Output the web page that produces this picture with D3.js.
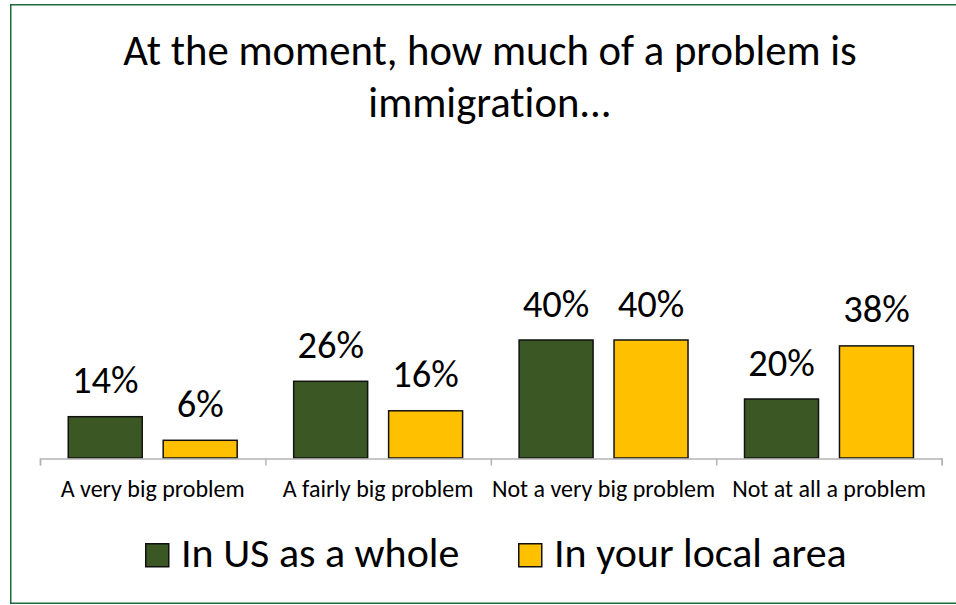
<!DOCTYPE html>
<html>
<head>
<meta charset="utf-8">
<script src="https://cdn.jsdelivr.net/npm/d3@7"></script>
<style>
  html, body { margin: 0; padding: 0; background: #fff; }
  svg { display: block; }
  text { font-family: Carlito, Calibri, "Open Sans", sans-serif; fill: #000; font-variant-ligatures: none; font-feature-settings: "liga" 0, "clig" 0; }
</style>
</head>
<body>
<svg id="chart" width="956" height="605"></svg>
<script>
// Survey responses, percent
const titleLines = ["At the moment, how much of a problem is", "immigration..."];
const categories = ["A very big problem", "A fairly big problem", "Not a very big problem", "Not at all a problem"];
const seriesNames = ["In US as a whole", "In your local area"];
const usWhole = [14, 26, 40, 20];
const localArea = [6, 16, 40, 38];
const seriesColors = ["#3A5724", "#FFC000"];

const seriesValues = [usWhole, localArea];

const svg = d3.select("#chart");

// Outer frame
svg.append("rect")
  .attr("x", 10.75).attr("y", 4.75)
  .attr("width", 960).attr("height", 598.5)
  .attr("fill", "none")
  .attr("stroke", "#1F6B3C")
  .attr("stroke-width", 1.5);

// Title
svg.append("text")
  .attr("text-anchor", "middle")
  .attr("font-size", 42.7)
  .selectAll("tspan")
  .data(titleLines)
  .join("tspan")
  .attr("x", 490)
  .attr("y", (d, i) => 65 + i * 52)
  .text(d => d);

// Scales
const x0 = d3.scaleBand().domain(categories).range([40, 941.7]).padding(0);
const x1 = d3.scaleBand().domain(seriesNames)
  .range([27.5, x0.bandwidth() - 27.5])
  .paddingInner(0.205).paddingOuter(0);
const y = d3.scaleLinear().domain([0, 50]).range([458, 310.5]);

// Bars
const groups = svg.append("g").selectAll("g")
  .data(categories)
  .join("g")
  .attr("transform", d => `translate(${x0(d)},0)`);

const cells = groups.selectAll("g")
  .data((c, ci) => seriesNames.map((s, si) => ({ s, si, v: seriesValues[si][ci] })))
  .join("g");

cells.append("rect")
  .attr("x", d => x1(d.s) + 0.75)
  .attr("width", x1.bandwidth() - 1.5)
  .attr("y", d => y(d.v))
  .attr("height", d => y(0) - y(d.v))
  .attr("fill", d => seriesColors[d.si])
  .attr("stroke", "#111")
  .attr("stroke-width", 1.5);

cells.append("text")
  .attr("x", d => x1(d.s) + x1.bandwidth() / 2)
  .attr("y", d => y(d.v) - 23.5)
  .attr("text-anchor", "middle")
  .attr("font-size", 38.5)
  .text(d => d.v + "%");

// Category axis: boundary ticks
const xEdges = d3.scaleLinear().domain([0, categories.length]).range(x0.range());
const axis = svg.append("g")
  .attr("transform", `translate(0,${y(0) + 0.5})`)
  .call(d3.axisBottom(xEdges)
    .tickValues(d3.range(categories.length + 1))
    .tickSize(7)
    .tickSizeOuter(7)
    .tickFormat(""));
axis.selectAll("path, line").attr("stroke", "#B4B4B4").attr("stroke-width", 1.5);

svg.append("g").selectAll("text")
  .data(categories)
  .join("text")
  .attr("x", d => x0(d) + x0.bandwidth() / 2)
  .attr("y", 497)
  .attr("text-anchor", "middle")
  .attr("font-size", 24)
  .text(d => d);

// Legend
const legendX = [145, 518];
const legend = svg.append("g").selectAll("g")
  .data(seriesNames)
  .join("g")
  .attr("transform", (d, i) => `translate(${legendX[i]},543)`);
legend.append("rect")
  .attr("x", 0.75).attr("y", 0.75)
  .attr("width", 23).attr("height", 23)
  .attr("fill", (d, i) => seriesColors[i])
  .attr("stroke", "#111")
  .attr("stroke-width", 1.5);
legend.append("text")
  .attr("x", 36)
  .attr("y", 23.7)
  .attr("font-size", 42)
  .text(d => d);
</script>
</body>
</html>
